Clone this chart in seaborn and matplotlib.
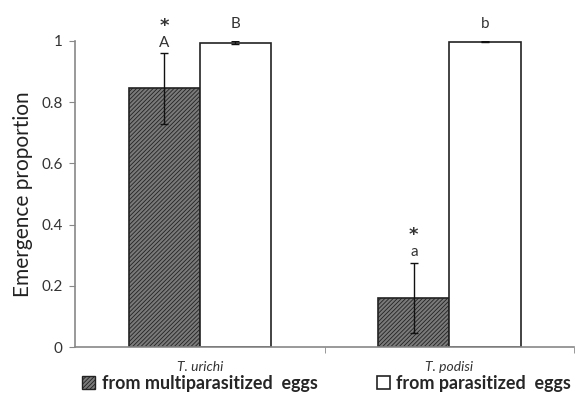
import pandas as pd
import seaborn as sns
import matplotlib.pyplot as plt
from matplotlib.patches import Patch

# data
species = ['T. urichi', 'T. podisi']
sources = ['from multiparasitized  eggs', 'from parasitized  eggs']
multi_mean = [0.845, 0.16]
multi_err = [0.115, 0.115]
para_mean = [0.995, 0.998]
para_err = [0.006, 0.002]
multi_letters = ['A', 'a']
para_letters = ['B', 'b']
multi_star = ['*', '*']
para_star = ['', '']

data = pd.DataFrame({
    'Species': species * 2,
    'Source': [sources[0]] * 2 + [sources[1]] * 2,
    'Emergence': multi_mean + para_mean,
    'err': multi_err + para_err,
    'label': multi_letters + para_letters,
    'star': multi_star + para_star,
})

sns.set_style('white')
plt.rcParams['font.family'] = ['Lato', 'DejaVu Sans']
plt.rcParams['hatch.color'] = '#2a2a2a'
plt.rcParams['hatch.linewidth'] = 0.6

fig = plt.figure(figsize=(5.76, 3.98), dpi=100)
ax = fig.add_axes([0.130, 0.128, 0.867, 0.769])

sns.barplot(data=data, x='Species', y='Emergence', hue='Source',
            hue_order=sources, order=species, width=0.57, errorbar=None,
            palette=['#7a7a7a', 'white'], edgecolor='#222222', linewidth=1.2,
            ax=ax, legend=False)

# hatch the multiparasitized bars, then add error bars and letters
bars = ax.patches[:4]
for i, bar in enumerate(bars):
    if i < 2:
        bar.set_hatch('////////')
        bar.set_edgecolor('#222222')
    row = data.iloc[i]
    cx = bar.get_x() + bar.get_width() / 2
    h = bar.get_height()
    mid = h + row['err'] + (0.035 if row['star'] else 0.055)
    ax.errorbar(cx, h, yerr=row['err'], fmt='none', ecolor='#111111',
                elinewidth=1, capsize=3, capthick=1, zorder=5)
    ax.text(cx, mid, row['label'], ha='center', va='center',
            fontsize=11, color='#333333')
    if row['star']:
        ax.text(cx, mid + 0.055, row['star'], ha='center', va='center',
                fontsize=13, fontweight='bold', color='#333333',
                family='DejaVu Sans')

ax.set_xlim(-0.5, 1.5)
ax.set_ylim(0, 1.0)
ax.set_yticks([0, 0.2, 0.4, 0.6, 0.8, 1])
ax.set_yticklabels(['0', '0.2', '0.4', '0.6', '0.8', '1'], fontsize=11, color='#333333')
ax.set_xticks([0, 1])
ax.set_xticklabels(species, fontstyle='italic', fontsize=10, color='#333333')
ax.set_xticks([0.5, 1.5], minor=True)
ax.tick_params(axis='x', which='major', length=0, pad=10)
ax.tick_params(axis='x', which='minor', length=4, direction='out', color='#888888', bottom=True)
ax.tick_params(axis='y', length=4, direction='out', color='#888888', left=True, pad=5)
ax.set_xlabel('')
ax.set_ylabel('Emergence proportion', fontsize=15, color='#222222', labelpad=6)
for side in ['top', 'right']:
    ax.spines[side].set_visible(False)
for side in ['left', 'bottom']:
    ax.spines[side].set_color('#888888')
    ax.spines[side].set_linewidth(1.2)

handles = [Patch(facecolor='#7a7a7a', edgecolor='#222222', hatch='////////', label=sources[0]),
           Patch(facecolor='white', edgecolor='#222222', linewidth=1.2, label=sources[1])]
fig.legend(handles=handles, loc='lower center', bbox_to_anchor=(0.567, -0.025), ncol=2,
           frameon=False, handlelength=0.75, handleheight=0.75,
           handletextpad=0.35, columnspacing=3.3,
           prop={'size': 12.9, 'weight': 'bold'})

fig.savefig('out.png', dpi=100)
